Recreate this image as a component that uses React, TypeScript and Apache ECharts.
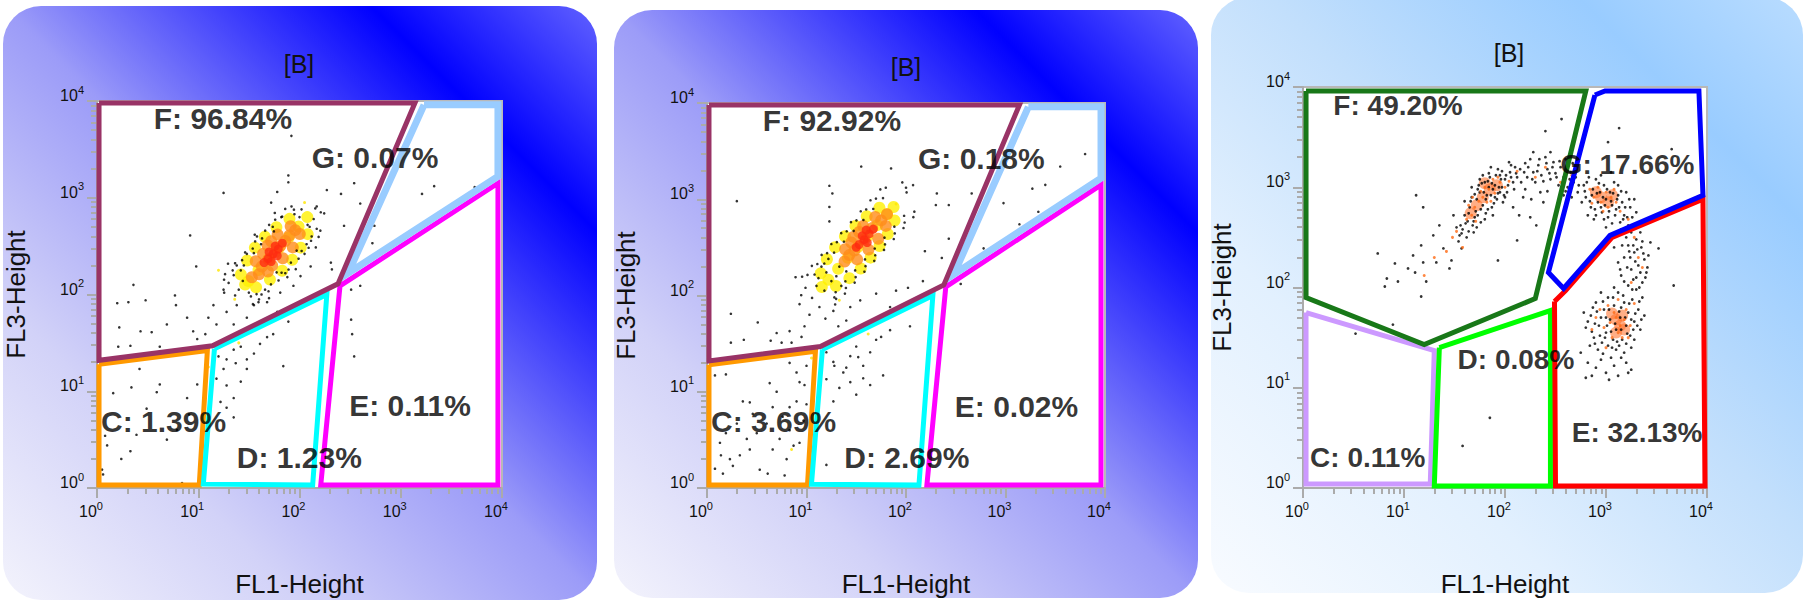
import React, { useEffect, useRef } from 'react';
import * as echarts from 'echarts';

const FONT = '"Liberation Sans", Arial, Helvetica, sans-serif';
const TITLE = '[B]';
const X_NAME = 'FL1-Height';
const Y_NAME = 'FL3-Height';
// axis values are decades: 0..4 means 10^0..10^4
const MINOR_STEPS = [0.301, 0.477, 0.602, 0.699, 0.778, 0.845, 0.903, 0.954];
const DECADES = [0, 1, 2, 3];

// ---------- gates (log10 units) ----------
const GATE_C_12 = [[0.02, 1.28], [1.09, 1.42], [1.01, 0.03], [0.02, 0.03], [0.02, 1.28]];
const GATE_D_12 = [[1.16, 1.44], [2.27, 2.0], [2.13, 0.03], [1.05, 0.04], [1.16, 1.44]];
const GATE_E_12 = [[2.4, 2.09], [3.96, 3.15], [3.96, 0.03], [2.21, 0.03], [2.4, 2.09]];
const GATE_F_12 = [[0.02, 3.98], [3.14, 3.98], [2.38, 2.11], [1.14, 1.47], [0.02, 1.32], [0.02, 3.98]];
const GATE_G_12 = [[3.23, 3.96], [3.96, 3.96], [3.96, 3.22], [2.48, 2.22], [3.23, 3.96]];

const GATE_C_3 = [[0.03, 1.75], [1.3, 1.37], [1.26, 0.04], [0.03, 0.04], [0.03, 1.75]];
const GATE_D_3 = [[1.35, 1.4], [2.45, 1.77], [2.45, 0.02], [1.3, 0.02], [1.35, 1.4]];
const GATE_E_3 = [[2.49, 1.86], [2.6, 1.97], [3.06, 2.5], [3.96, 2.88], [3.98, 0.02], [2.5, 0.02], [2.49, 1.86]];
const GATE_F_3 = [[0.03, 3.96], [2.8, 3.96], [2.3, 1.89], [1.2, 1.43], [0.03, 1.9], [0.03, 3.96]];
const GATE_G_3 = [[2.89, 3.92], [2.99, 3.96], [3.92, 3.96], [3.96, 2.92], [3.04, 2.52], [2.58, 1.99], [2.43, 2.15], [2.89, 3.92]];

// ---------- gate labels ----------
const LABEL_TEXT_1 = ['F: 96.84%', 'G: 0.07%', 'E: 0.11%', 'C: 1.39%', 'D: 1.23%'];
const LABEL_TEXT_2 = ['F: 92.92%', 'G: 0.18%', 'E: 0.02%', 'C: 3.69%', 'D: 2.69%'];
const LABEL_TEXT_3 = ['F: 49.20%', 'G: 17.66%', 'D: 0.08%', 'E: 32.13%', 'C: 0.11%'];
const LABEL_AT_12 = [[0.56, 3.82], [2.12, 3.42], [2.49, 0.85], [0.04, 0.69], [1.38, 0.32]];
const LABEL_AT_3 = [[0.3, 3.82], [2.55, 3.23], [1.53, 1.28], [2.66, 0.55], [0.07, 0.3]];

// ---------- panel 1 events ----------
const P1_YELLOW = [[1.463, 2.103], [1.421, 2.206], [1.571, 2.074], [1.483, 2.352], [1.708, 2.154], [1.595, 2.253], [1.559, 2.484], [1.829, 2.246], [1.694, 2.365], [1.658, 2.597], [1.928, 2.359], [1.793, 2.478], [1.772, 2.696], [2.012, 2.484], [1.892, 2.59], [1.901, 2.782], [2.081, 2.624], [1.991, 2.703], [2.077, 2.8], [1.496, 2.14]];
const P1_ORANGE = [[1.529, 2.178], [1.628, 2.29], [1.568, 2.343], [1.688, 2.237], [1.76, 2.44], [1.685, 2.506], [1.835, 2.374], [1.859, 2.553], [1.784, 2.619], [1.934, 2.487], [1.958, 2.665], [1.913, 2.705], [2.003, 2.625], [1.694, 2.365], [1.6, 2.21], [1.73, 2.3], [1.81, 2.5], [1.9, 2.61], [1.64, 2.42], [1.72, 2.55]];
const P1_RED = [[1.74, 2.42], [1.69, 2.37], [1.79, 2.47], [1.7, 2.44], [1.78, 2.4], [1.83, 2.53], [1.65, 2.33], [1.76, 2.5], [1.72, 2.34]];
const P1_YELLOW_DOTS = [[1.36, 1.95], [1.62, 1.72], [1.2, 2.25], [2.05, 2.95], [1.4, 1.5], [1.1, 1.25]];
const P1_BLACK = [
  [1.92, 3.64], [1.89, 3.23], [1.89, 3.16], [1.25, 3.05], [1.78, 3.06], [1.72, 2.95], [0.92, 2.61], [0.98, 2.29],
  [0.36, 2.1], [0.48, 1.94], [0.31, 1.92], [0.2, 1.91], [0.22, 1.66], [0.21, 1.46], [0.33, 1.47], [0.43, 1.62], [0.54, 1.61], [0.62, 1.46], [0.69, 1.69], [0.77, 1.99], [0.78, 1.89], [0.89, 1.76], [0.95, 1.62], [0.99, 1.54], [1.07, 1.59], [1.1, 1.76], [1.15, 1.89], [1.18, 1.69], [1.25, 2.05], [1.28, 1.82], [1.35, 1.69], [1.38, 1.89], [1.43, 1.59], [1.48, 1.76], [1.55, 1.89], [1.61, 1.69], [1.68, 1.92], [1.78, 1.82], [1.89, 1.72], [1.81, 2.02], [1.94, 2.09], [2.01, 2.19], [2.11, 2.29], [2.31, 2.33],
  [2.44, 2.71], [2.54, 3.15], [2.41, 3.04], [2.27, 3.08], [2.17, 2.91], [2.21, 2.85], [2.14, 2.78], [2.6, 2.94], [2.32, 2.26], [2.51, 2.05], [2.51, 1.74], [2.52, 1.59], [2.54, 1.36], [2.6, 2.09], [2.72, 2.53], [2.74, 2.71], [3.21, 3.04], [3.33, 3.12], [3.73, 3.11],
  [1.2, 1.36], [1.25, 1.23], [1.28, 1.33], [1.35, 1.43], [1.37, 1.29], [1.42, 1.46], [1.48, 1.33], [1.18, 1.13], [1.28, 1.06], [1.35, 0.93], [1.42, 1.1], [1.48, 1.23], [1.55, 1.39], [1.61, 1.49], [1.68, 1.56], [1.74, 1.59], [1.84, 1.26], [1.35, 0.73], [1.28, 0.83], [1.22, 0.89],
  [0.06, 0.14], [0.05, 0.19], [0.1, 0.44], [0.24, 0.3], [0.33, 0.38], [0.16, 0.98], [0.34, 1.04], [0.42, 1.23], [0.59, 0.99], [0.62, 1.07], [0.69, 0.5], [0.39, 0.55], [0.49, 0.82], [0.89, 0.93], [0.91, 0.76], [0.99, 1.07], [0.84, 0.05], [0.08, 0.54], [0.79, 0.6],
  [1.265, 2.21], [1.364, 2.323], [1.463, 2.435], [1.562, 2.548], [1.661, 2.66], [1.76, 2.773], [1.859, 2.885],
  [1.595, 1.92], [1.694, 2.033], [1.793, 2.145], [1.892, 2.258], [1.991, 2.37], [2.09, 2.483], [2.189, 2.595],
  [1.35, 2.2], [1.576, 2.004], [1.549, 2.427], [1.774, 2.229], [1.747, 2.652], [1.972, 2.454], [1.945, 2.877], [2.17, 2.679],
  [1.294, 2.318], [1.699, 1.962], [1.558, 2.618], [1.963, 2.262], [1.756, 2.843], [2.161, 2.487],
  [1.364, 1.99], [1.256, 2.019], [2.156, 2.89], [2.244, 2.839],
  [1.3, 2.12], [1.4, 2.05], [1.52, 1.98], [1.45, 2.3], [1.62, 2.52], [1.7, 2.72], [1.82, 2.8], [2.0, 2.8], [2.08, 2.72], [2.12, 2.6], [2.05, 2.42], [1.88, 2.18], [1.66, 2.05], [1.42, 2.25], [1.58, 2.6], [2.02, 2.88],
  [1.255, 2.153], [1.54, 1.9], [1.34, 2.25], [1.625, 2.0], [1.433, 2.355], [1.718, 2.105], [1.538, 2.475], [1.823, 2.225], [1.63, 2.58], [1.915, 2.33], [1.736, 2.7], [2.021, 2.45], [1.829, 2.805], [2.114, 2.555], [1.921, 2.91], [2.206, 2.66],
  [1.5, 2.02], [1.44, 2.14], [1.6, 1.95], [2.1, 2.7], [1.95, 2.83], [1.38, 2.3], [1.48, 2.42], [1.86, 2.22], [2.07, 2.52]
];

// ---------- panel 2 events ----------
const P2_YELLOW = [[1.144, 2.23], [1.296, 2.098], [1.22, 2.164], [1.154, 2.089], [1.205, 2.376], [1.431, 2.18], [1.318, 2.278], [1.287, 2.502], [1.545, 2.28], [1.416, 2.391], [1.386, 2.615], [1.644, 2.393], [1.515, 2.504], [1.492, 2.723], [1.734, 2.513], [1.613, 2.618], [1.605, 2.823], [1.817, 2.639], [1.711, 2.731], [1.733, 2.911], [1.885, 2.779], [1.809, 2.845], [1.875, 2.92]];
const P2_ORANGE = [[1.383, 2.353], [1.388, 2.481], [1.509, 2.375], [1.482, 2.467], [1.471, 2.609], [1.623, 2.477], [1.57, 2.722], [1.721, 2.59], [1.691, 2.815], [1.797, 2.723], [1.809, 2.845], [1.58, 2.58], [1.43, 2.42], [1.53, 2.66], [1.66, 2.7], [1.75, 2.78], [1.45, 2.55]];
const P2_RED = [[1.58, 2.58], [1.53, 2.53], [1.63, 2.64], [1.56, 2.62], [1.61, 2.55], [1.67, 2.69], [1.5, 2.5], [1.6, 2.68]];
const P2_YELLOW_DOTS = [[1.33, 1.95], [1.62, 1.6], [1.05, 1.35], [0.85, 0.4], [1.45, 1.62], [1.9, 2.95]];
const P2_BLACK = [
  [0.956, 2.195], [1.288, 1.907], [1.054, 2.308], [1.386, 2.02], [1.152, 2.422], [1.484, 2.134], [1.25, 2.535], [1.582, 2.247], [1.349, 2.648], [1.681, 2.36], [1.447, 2.762], [1.779, 2.474], [1.545, 2.875], [1.877, 2.587], [1.643, 2.989], [1.975, 2.701], [1.742, 3.102], [2.074, 2.814],
  [1.081, 2.218], [1.293, 2.034], [1.179, 2.332], [1.391, 2.148], [1.277, 2.445], [1.489, 2.261], [1.376, 2.559], [1.588, 2.375], [1.474, 2.672], [1.686, 2.488], [1.572, 2.785], [1.784, 2.601], [1.671, 2.899], [1.883, 2.715], [1.769, 3.012], [1.981, 2.828],
  [2.006, 3.071], [2.071, 3.147], [1.963, 3.175], [1.056, 1.975], [0.947, 2.003],
  [1.1, 2.1], [1.18, 2.05], [1.25, 2.15], [1.15, 2.3], [1.3, 2.2], [1.22, 2.38], [1.35, 2.1], [1.28, 1.98], [1.4, 2.25], [1.12, 2.18], [1.2, 2.24], [1.33, 2.3],
  [1.01, 2.214], [1.298, 1.965], [1.109, 2.327], [1.396, 2.078], [1.207, 2.44], [1.494, 2.191], [1.305, 2.554], [1.593, 2.305], [1.404, 2.667], [1.691, 2.418], [1.502, 2.78], [1.789, 2.531], [1.6, 2.894], [1.887, 2.645], [1.698, 3.007], [1.986, 2.758], [1.797, 3.12], [2.084, 2.871],
  [1.55, 3.34], [1.85, 3.32], [1.23, 3.14], [1.26, 3.06], [1.23, 2.92], [1.23, 2.77], [0.3, 2.98], [2.0, 3.12], [2.31, 3.06], [2.3, 2.94], [2.43, 2.94], [2.43, 2.59], [2.19, 2.46], [2.36, 2.39], [2.66, 3.06], [2.98, 2.96], [3.27, 3.11], [3.4, 3.15], [3.55, 3.34], [3.8, 3.47], [3.33, 2.87], [3.14, 2.74], [2.78, 2.49], [2.55, 2.12],
  [0.24, 1.81], [0.51, 1.72], [0.24, 1.51], [0.37, 1.54], [0.64, 1.53], [0.75, 1.51], [0.85, 1.51], [0.7, 1.61], [0.83, 1.63], [0.95, 1.57], [0.98, 1.68], [1.03, 1.8], [0.93, 1.91], [0.89, 2.19], [0.99, 2.08], [1.13, 1.88], [1.19, 1.76], [1.27, 1.84], [1.32, 1.68], [1.4, 1.74], [1.44, 1.88], [1.54, 1.95], [1.7, 2.02], [1.84, 1.88], [1.9, 2.05], [2.02, 2.08], [2.04, 1.68], [2.17, 2.15],
  [1.2, 1.41], [1.27, 1.31], [1.37, 1.2], [1.44, 1.37], [1.5, 1.47], [1.57, 1.27], [1.64, 1.41], [1.7, 1.54], [1.75, 1.57], [1.84, 1.64], [1.33, 1.04], [1.44, 1.1], [1.5, 0.97], [1.27, 0.9], [1.2, 1.13], [1.57, 1.14], [1.77, 1.17], [1.64, 1.07], [1.2, 0.24], [1.28, 1.27], [1.52, 1.36], [1.4, 1.25],
  [0.08, 1.17], [0.19, 1.18], [0.36, 0.9], [0.43, 0.89], [0.63, 1.09], [0.7, 1.0], [0.83, 1.3], [0.9, 1.2], [0.93, 1.1], [1.0, 1.27], [0.98, 1.07], [0.9, 0.9], [0.83, 0.84], [0.76, 0.74], [0.66, 0.84], [0.6, 0.67], [0.5, 0.57], [0.43, 0.4], [0.33, 0.34], [0.23, 0.3], [0.14, 0.34], [0.13, 0.47], [0.19, 0.57], [0.08, 0.2], [0.16, 0.15], [0.53, 0.19], [0.61, 0.15], [0.8, 0.3], [0.87, 0.44], [0.93, 0.47], [0.73, 0.51], [0.66, 0.4], [0.46, 0.77], [0.3, 0.67], [0.4, 0.51], [0.78, 0.13], [0.26, 0.23], [0.83, 0.6], [0.97, 0.7], [1.0, 0.87]
];

// ---------- panel 3 events ----------
const P3_BLOB = [[1.78, 2.9], [1.85, 2.98], [1.72, 2.82], [1.92, 3.02], [1.66, 2.74], [1.8, 3.04], [2.95, 2.9], [3.02, 2.85], [2.9, 2.95], [3.06, 2.92], [3.1, 1.68], [3.14, 1.62], [3.06, 1.74], [3.18, 1.58], [3.1, 1.55], [3.16, 1.72]];
const P3_ORANGE = [
  [1.7, 2.8], [1.78, 2.9], [1.84, 2.98], [1.9, 2.94], [1.8, 3.0], [1.74, 2.86], [1.95, 3.05], [1.88, 3.08], [1.67, 2.72], [1.62, 2.68], [2.0, 3.0], [1.82, 2.85], [1.58, 2.4], [1.48, 2.5], [1.3, 2.3], [2.3, 3.1], [2.55, 3.05], [2.88, 2.9], [2.95, 2.85], [3.0, 2.95], [3.05, 2.9], [2.92, 3.0], [3.1, 2.85], [3.02, 2.8], [3.32, 2.3], [3.28, 2.5], [3.1, 1.7], [3.14, 1.62], [3.08, 1.75], [3.18, 1.68], [3.12, 1.55], [3.04, 1.65], [3.2, 1.78], [2.98, 1.6], [3.16, 1.5], [2.9, 1.7], [3.24, 1.62],
  [1.68, 2.9], [1.76, 2.96], [1.86, 2.86], [1.93, 3.1], [2.04, 3.06], [1.71, 2.66], [1.64, 2.82], [2.12, 3.16], [2.4, 3.2], [2.66, 3.12], [2.84, 2.98], [2.97, 2.76], [3.08, 2.98], [3.14, 2.76], [2.86, 2.84], [3.22, 2.68], [3.36, 2.2], [3.25, 2.05], [3.02, 1.82], [3.06, 1.5], [3.22, 1.5], [2.94, 1.78], [3.28, 1.84], [2.86, 1.58], [3.0, 1.4], [3.12, 1.88], [1.52, 2.56], [1.42, 2.36], [1.2, 2.12]
];
const P3_BLACK = [
  [0.83, 2.09], [0.81, 2.01], [0.91, 2.24], [0.94, 2.06], [1.04, 2.19], [1.09, 2.32], [1.11, 2.15], [1.17, 2.42], [1.19, 2.25], [1.22, 2.06], [1.29, 2.52], [1.32, 2.25], [1.35, 2.62], [1.39, 2.39], [1.45, 2.19], [1.47, 2.27], [1.49, 2.72], [1.55, 2.52], [1.57, 2.39], [1.17, 1.91], [0.74, 2.34], [1.12, 2.92], [1.19, 2.8], [0.89, 1.63], [1.93, 2.27], [2.12, 2.47], [2.56, 3.68], [2.4, 3.56], [3.13, 3.59], [3.02, 3.45], [3.65, 3.38], [3.52, 2.39], [3.67, 2.02], [1.85, 0.7], [1.58, 0.42], [0.52, 1.54], [2.8, 1.1], [3.22, 1.15],
  [1.6, 2.72], [1.65, 2.8], [1.7, 2.7], [1.72, 2.88], [1.75, 2.95], [1.78, 2.82], [1.8, 3.05], [1.82, 2.92], [1.85, 3.1], [1.88, 2.98], [1.9, 3.02], [1.92, 2.88], [1.95, 3.12], [1.97, 3.0], [2.0, 3.08], [2.02, 2.95], [2.05, 3.15], [2.08, 3.05], [2.1, 3.2], [1.68, 2.62], [1.63, 2.66], [1.58, 2.58], [1.74, 3.02], [1.83, 2.78], [1.93, 3.18], [1.98, 2.85], [1.88, 2.72], [1.7, 2.93], [1.66, 2.86], [2.04, 3.25], [1.78, 3.12], [1.86, 3.2], [2.12, 3.1], [1.62, 2.5], [1.69, 2.55], [1.76, 2.65], [1.56, 2.62], [1.6, 2.86], [1.95, 2.95], [1.84, 3.0],
  [1.64, 2.74], [1.67, 2.9], [1.71, 2.76], [1.73, 2.98], [1.76, 2.78], [1.79, 2.95], [1.81, 2.88], [1.83, 3.06], [1.86, 2.92], [1.87, 3.04], [1.89, 2.84], [1.91, 3.12], [1.94, 3.0], [1.96, 3.08], [1.99, 2.92], [2.01, 3.12], [2.03, 3.02], [2.06, 3.1], [2.09, 2.98], [2.11, 3.14], [1.69, 2.66], [1.73, 2.72], [1.77, 3.04], [1.81, 2.74], [1.87, 2.8], [1.9, 2.9], [1.93, 2.94], [1.97, 3.16], [2.0, 2.9], [1.61, 2.64], [1.57, 2.54], [1.54, 2.46], [1.52, 2.6], [1.64, 2.56], [1.72, 2.6], [1.8, 2.68], [1.67, 3.0], [1.75, 3.08], [1.84, 3.14], [2.06, 3.22],
  [2.15, 3.18], [2.2, 3.24], [2.22, 3.1], [2.25, 3.28], [2.28, 3.15], [2.3, 3.05], [2.33, 3.22], [2.36, 3.12], [2.4, 3.3], [2.42, 3.18], [2.45, 3.08], [2.48, 3.25], [2.5, 3.14], [2.53, 3.02], [2.55, 3.2], [2.58, 3.1], [2.6, 3.28], [2.62, 3.0], [2.65, 3.15], [2.68, 3.05], [2.7, 3.22], [2.72, 2.95], [2.2, 2.98], [2.35, 2.95], [2.28, 3.35], [2.45, 3.35], [2.18, 2.9], [2.38, 2.85], [2.58, 2.92], [2.52, 2.82], [2.08, 2.8], [2.14, 2.72], [2.25, 2.7], [2.31, 2.62],
  [2.16, 3.05], [2.19, 3.15], [2.23, 3.2], [2.27, 3.08], [2.32, 3.16], [2.34, 3.28], [2.38, 3.06], [2.41, 3.24], [2.44, 3.14], [2.47, 3.2], [2.51, 3.1], [2.54, 3.26], [2.57, 3.04], [2.61, 3.18], [2.64, 3.08], [2.67, 3.24], [2.7, 3.1], [2.73, 3.02], [2.26, 2.88], [2.42, 2.96], [2.6, 2.96], [2.66, 2.9],
  [2.78, 3.02], [2.8, 2.9], [2.83, 3.1], [2.85, 2.8], [2.87, 2.98], [2.9, 3.08], [2.92, 2.85], [2.94, 2.95], [2.96, 2.75], [2.98, 3.02], [3.0, 2.88], [3.02, 2.7], [3.04, 2.95], [3.06, 2.82], [3.08, 3.05], [3.1, 2.78], [3.12, 2.92], [3.14, 2.65], [3.16, 2.85], [3.18, 2.72], [3.2, 2.95], [3.22, 2.62], [3.24, 2.8], [3.26, 2.7], [2.88, 2.68], [2.82, 2.72], [2.95, 3.12], [3.05, 3.15], [2.76, 2.85], [3.12, 3.02], [3.28, 2.88], [3.0, 2.6],
  [2.79, 2.96], [2.81, 3.05], [2.84, 2.86], [2.86, 2.92], [2.89, 2.78], [2.91, 2.94], [2.93, 3.04], [2.95, 2.8], [2.97, 2.9], [2.99, 2.82], [3.01, 2.98], [3.03, 2.76], [3.05, 2.86], [3.07, 2.94], [3.09, 2.72], [3.11, 2.88], [3.13, 2.8], [3.15, 2.96], [3.17, 2.68], [3.19, 2.8], [3.21, 2.7], [3.23, 2.88], [3.27, 2.6], [3.3, 2.75], [2.9, 2.72], [2.98, 2.68], [3.06, 2.64], [3.15, 2.58],
  [3.25, 2.55], [3.3, 2.48], [3.22, 2.42], [3.35, 2.4], [3.28, 2.35], [3.18, 2.3], [3.38, 2.28], [3.32, 2.22], [3.25, 2.18], [3.4, 2.15], [3.15, 2.12], [3.3, 2.1], [3.36, 2.05], [3.22, 2.02], [3.42, 2.32], [3.12, 2.25], [3.34, 2.55], [3.2, 2.5], [3.44, 2.45], [3.08, 2.4],
  [3.2, 2.6], [3.27, 2.42], [3.31, 2.38], [3.24, 2.3], [3.37, 2.34], [3.29, 2.26], [3.21, 2.2], [3.34, 2.15], [3.27, 2.08], [3.39, 2.1], [3.18, 2.06], [3.33, 2.0], [3.26, 1.98], [3.41, 2.2], [3.14, 2.18], [3.23, 2.36], [3.36, 2.46], [3.16, 2.42],
  [2.8, 1.6], [2.85, 1.72], [2.88, 1.5], [2.9, 1.85], [2.93, 1.62], [2.96, 1.45], [2.98, 1.78], [3.0, 1.55], [3.02, 1.9], [3.04, 1.68], [3.06, 1.4], [3.08, 1.82], [3.1, 1.58], [3.12, 1.95], [3.14, 1.7], [3.16, 1.48], [3.18, 1.85], [3.2, 1.62], [3.22, 1.75], [3.24, 1.52], [3.26, 1.88], [3.28, 1.66], [3.3, 1.98], [3.32, 1.78], [3.34, 1.58], [3.36, 1.9], [3.05, 1.3], [3.1, 1.38], [2.92, 1.38], [3.18, 1.35], [2.84, 1.42], [2.95, 1.95], [3.08, 2.0], [3.25, 1.4], [3.15, 1.8], [3.0, 1.7], [2.78, 1.75], [3.38, 1.72],
  [2.82, 1.66], [2.86, 1.56], [2.87, 1.8], [2.89, 1.64], [2.91, 1.76], [2.94, 1.52], [2.95, 1.7], [2.97, 1.86], [2.99, 1.5], [3.01, 1.62], [3.03, 1.78], [3.05, 1.56], [3.07, 1.9], [3.09, 1.64], [3.11, 1.46], [3.13, 1.76], [3.15, 1.58], [3.17, 1.92], [3.19, 1.7], [3.21, 1.54], [3.23, 1.84], [3.25, 1.68], [3.27, 1.58], [3.29, 1.74], [3.31, 1.62], [3.33, 1.86], [3.35, 1.68], [2.97, 1.34], [3.02, 1.42], [3.13, 1.42], [3.2, 1.44], [2.89, 1.44], [3.28, 1.48], [3.07, 1.48],
  [2.82, 1.25], [2.9, 1.2], [2.95, 1.28], [3.0, 1.15], [3.08, 1.22], [3.12, 1.12], [3.2, 1.25], [2.86, 1.12], [3.03, 1.08], [3.15, 1.3], [2.75, 1.35], [3.25, 1.18]
];

const AXIS_GRAY = '#ABABAB';

const PANELS = [
  {
    grid: { left: 97, top: 101, width: 405, height: 403 },
    bg: [3, 6, 594, 594],
    stops: [[0, '#F3F3FC'], [0.25, '#D2D2F8'], [0.5, '#9C9CF8'], [0.81, '#0000FF'], [1, '#6262FF']],
    title: [299, 64],
    layers: [
      { data: P1_YELLOW, size: 12, color: '#FFF000' },
      { data: P1_ORANGE, size: 12, color: '#FF8C1A' },
      { data: P1_RED, size: 9, color: '#FF2A10' },
      { data: P1_YELLOW_DOTS, size: 3, color: '#FFE600' },
      { data: P1_BLACK, size: 2.6, color: '#000000' }
    ],
    gates: [
      { d: GATE_C_12, c: '#FF9900', w: 5 }, { d: GATE_D_12, c: '#00FFFF', w: 5 }, { d: GATE_E_12, c: '#FF00FF', w: 5 },
      { d: GATE_G_12, c: '#99CCFF', w: 7 }, { d: GATE_F_12, c: '#993366', w: 5 }
    ],
    labelAt: LABEL_AT_12, labelText: LABEL_TEXT_1, labelSize: 30
  },
  {
    grid: { left: 707, top: 103, width: 398, height: 396 },
    bg: [614, 10, 584, 588],
    stops: [[0, '#F3F3FC'], [0.25, '#D2D2F8'], [0.5, '#9C9CF8'], [0.81, '#0000FF'], [1, '#6262FF']],
    title: [906, 67],
    layers: [
      { data: P2_YELLOW, size: 12, color: '#FFF000' },
      { data: P2_ORANGE, size: 12, color: '#FF8C1A' },
      { data: P2_RED, size: 9, color: '#FF2A10' },
      { data: P2_YELLOW_DOTS, size: 3, color: '#FFE600' },
      { data: P2_BLACK, size: 2.6, color: '#000000' }
    ],
    gates: [
      { d: GATE_C_12, c: '#FF9900', w: 5 }, { d: GATE_D_12, c: '#00FFFF', w: 5 }, { d: GATE_E_12, c: '#FF00FF', w: 5 },
      { d: GATE_G_12, c: '#99CCFF', w: 7 }, { d: GATE_F_12, c: '#993366', w: 5 }
    ],
    labelAt: LABEL_AT_12, labelText: LABEL_TEXT_2, labelSize: 30
  },
  {
    grid: { left: 1303, top: 87, width: 404, height: 404 },
    bg: [1211, -3, 592, 596],
    stops: [[0, '#F8FBFF'], [0.3, '#E2F0FE'], [0.55, '#C2DFFC'], [0.81, '#99CCFF'], [1, '#B9DCFF']],
    title: [1509, 53],
    layers: [
      { data: P3_BLOB, size: 12, color: 'rgba(255,110,40,0.7)' },
      { data: P3_BLACK, size: 2.8, color: '#000000' },
      { data: P3_ORANGE, size: 3, color: '#FF6A14' }
    ],
    gates: [
      { d: GATE_C_3, c: '#CC99FF', w: 5 }, { d: GATE_D_3, c: '#00FF00', w: 5 }, { d: GATE_E_3, c: '#FF0000', w: 5 },
      { d: GATE_G_3, c: '#0000FF', w: 5 }, { d: GATE_F_3, c: '#187818', w: 5 }
    ],
    labelAt: LABEL_AT_3, labelText: LABEL_TEXT_3, labelSize: 28
  }
];

const MINOR_TICKS = DECADES.flatMap((d) => MINOR_STEPS.map((s) => d + s));

function buildOption() {
  const grid: any[] = [];
  const xAxis: any[] = [];
  const yAxis: any[] = [];
  const series: any[] = [];
  const graphic: any[] = [];

  const labelRich = {
    s: { fontSize: 11, lineHeight: 15, verticalAlign: 'top', fontFamily: FONT, color: '#111' }
  };
  const fmt = (v: number) => `10{s|${v}}`;

  PANELS.forEach((p, i) => {
    grid.push({ ...p.grid, show: true, backgroundColor: '#ffffff', borderColor: '#B8B8B8', borderWidth: 2, containLabel: false });
    const tickStyle = { color: AXIS_GRAY, width: 2 };
    xAxis.push({
      gridIndex: i, type: 'value', min: 0, max: 4, interval: 1, position: 'bottom',
      name: X_NAME, nameLocation: 'middle', nameGap: 83,
      nameTextStyle: { fontSize: 26, color: '#111', fontFamily: FONT },
      axisLine: { show: true, onZero: false, lineStyle: { color: AXIS_GRAY, width: 2 } },
      axisTick: { show: true, length: 10, lineStyle: tickStyle },
      axisLabel: { formatter: fmt, fontSize: 16, lineHeight: 23, color: '#111', fontFamily: FONT, margin: 12, padding: [0, 12, 0, 0], rich: labelRich },
      splitLine: { show: false }
    });
    xAxis.push({
      gridIndex: i, type: 'value', min: 0, max: 4, position: 'bottom',
      axisLine: { show: false }, axisLabel: { show: false }, splitLine: { show: false },
      axisTick: { show: true, length: 6, customValues: MINOR_TICKS, lineStyle: tickStyle }
    });
    yAxis.push({
      gridIndex: i, type: 'value', min: 0, max: 4, interval: 1, position: 'left',
      name: Y_NAME, nameLocation: 'middle', nameGap: 68,
      nameTextStyle: { fontSize: 26, color: '#111', fontFamily: FONT },
      axisLine: { show: true, onZero: false, lineStyle: { color: AXIS_GRAY, width: 2 } },
      axisTick: { show: true, length: 10, lineStyle: tickStyle },
      axisLabel: { formatter: fmt, fontSize: 16, lineHeight: 23, color: '#111', fontFamily: FONT, margin: 13, padding: [0, 0, 11, 0], rich: labelRich },
      splitLine: { show: false }
    });
    yAxis.push({
      gridIndex: i, type: 'value', min: 0, max: 4, position: 'left',
      axisLine: { show: false }, axisLabel: { show: false }, splitLine: { show: false },
      axisTick: { show: true, length: 6, customValues: MINOR_TICKS, lineStyle: tickStyle }
    });

    const xi = i * 2;
    p.layers.forEach((l) => {
      series.push({
        type: 'scatter', xAxisIndex: xi, yAxisIndex: xi, data: l.data, symbolSize: l.size,
        itemStyle: { color: l.color }, silent: true, z: 2, emphasis: { disabled: true }
      });
    });
    p.gates.forEach((g) => {
      series.push({
        type: 'line', xAxisIndex: xi, yAxisIndex: xi, data: g.d, symbol: 'none', showSymbol: false,
        clip: false, silent: true, z: 4,
        lineStyle: { color: g.c, width: g.w, join: 'miter', cap: 'butt' }, emphasis: { disabled: true }
      });
    });
    series.push({
      type: 'scatter', xAxisIndex: xi, yAxisIndex: xi, silent: true, z: 6,
      data: p.labelAt.map((a, k) => [a[0], a[1], p.labelText[k]]),
      symbolSize: 0.1, itemStyle: { color: 'rgba(0,0,0,0)' },
      label: {
        show: true, position: 'right', distance: 0, formatter: (q: any) => q.data[2],
        fontSize: p.labelSize, fontWeight: 'bold', color: '#000', fontFamily: FONT
      },
      emphasis: { disabled: true }
    });

    graphic.push({
      type: 'rect', z: -10, silent: true,
      shape: { x: p.bg[0], y: p.bg[1], width: p.bg[2], height: p.bg[3], r: 38 },
      style: {
        fill: {
          type: 'linear', x: 0, y: 1, x2: 1, y2: 0, global: false,
          colorStops: p.stops.map((s) => ({ offset: s[0], color: s[1] }))
        }
      }
    });
    graphic.push({
      type: 'text', z: 10, silent: true, x: p.title[0], y: p.title[1],
      style: { text: TITLE, fontSize: 25, fontFamily: FONT, fill: '#111', align: 'center', verticalAlign: 'middle', textAlign: 'center', textVerticalAlign: 'middle' }
    });
  });

  return { animation: false, backgroundColor: '#ffffff', grid, xAxis, yAxis, series, graphic };
}

export default function App() {
  const ref = useRef<HTMLDivElement>(null);
  useEffect(() => {
    if (!ref.current) return;
    const chart = echarts.init(ref.current, null, { renderer: 'svg' });
    chart.setOption(buildOption() as any);
    return () => chart.dispose();
  }, []);
  return <div ref={ref} style={{ position: 'absolute', left: 0, top: 0, width: 1805, height: 602 }} />;
}
